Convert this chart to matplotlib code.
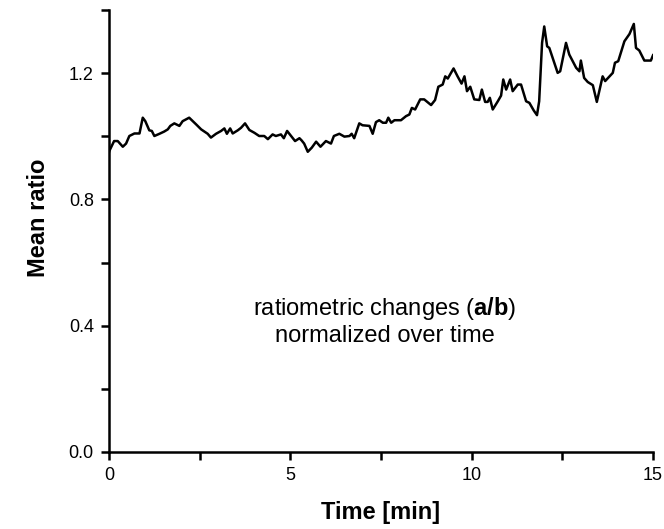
import matplotlib
matplotlib.use("Agg")
import matplotlib.pyplot as plt
from matplotlib.ticker import MultipleLocator

plt.rcParams['font.family'] = ['Liberation Sans', 'DejaVu Sans']
plt.rcParams['mathtext.fontset'] = 'custom'
plt.rcParams['mathtext.rm'] = 'Liberation Sans'
plt.rcParams['mathtext.bf'] = 'Liberation Sans:bold'

# time [min] and mean ratio
time = [0.00, 0.01, 0.14, 0.24, 0.38, 0.47, 0.56, 0.70, 0.84, 0.93, 1.00,
        1.11, 1.18, 1.25, 1.39, 1.52, 1.62, 1.69, 1.80, 1.94, 2.03, 2.21,
        2.40, 2.54, 2.72, 2.81, 2.95, 3.09, 3.18, 3.25, 3.34, 3.41, 3.55,
        3.64, 3.75, 3.87, 4.01, 4.14, 4.28, 4.38, 4.51, 4.60, 4.74, 4.82,
        4.91, 5.02, 5.13, 5.25, 5.31, 5.38, 5.48, 5.59, 5.71, 5.83, 5.98,
        6.12, 6.20, 6.35, 6.49, 6.63, 6.69, 6.76, 6.90, 6.99, 7.18, 7.27,
        7.36, 7.45, 7.55, 7.64, 7.70, 7.78, 7.87, 8.05, 8.19, 8.28, 8.35,
        8.44, 8.58, 8.69, 8.88, 8.99, 9.08, 9.20, 9.27, 9.34, 9.50, 9.61,
        9.72, 9.80, 9.87, 9.96, 10.07, 10.21, 10.28, 10.37, 10.44, 10.50,
        10.58, 10.72, 10.81, 10.87, 10.95, 11.06, 11.13, 11.27, 11.36,
        11.50, 11.59, 11.71, 11.80, 11.86, 11.94, 12.00, 12.08, 12.14,
        12.37, 12.44, 12.60, 12.69, 12.88, 12.97, 13.01, 13.10, 13.20,
        13.34, 13.45, 13.61, 13.68, 13.89, 13.95, 14.04, 14.21, 14.35,
        14.47, 14.53, 14.62, 14.76, 14.94, 15.00]
ratio = [0.950, 0.954, 0.985, 0.985, 0.967, 0.977, 1.001, 1.009, 1.009, 1.059,
         1.048, 1.019, 1.017, 1.001, 1.008, 1.015, 1.022, 1.033, 1.041, 1.033,
         1.048, 1.059, 1.038, 1.022, 1.008, 0.996, 1.008, 1.017, 1.025, 1.008,
         1.025, 1.009, 1.019, 1.027, 1.041, 1.020, 1.011, 1.001, 1.001, 0.991,
         1.006, 1.001, 1.006, 0.994, 1.017, 1.001, 0.985, 0.994, 0.987, 0.977,
         0.951, 0.964, 0.983, 0.967, 0.985, 0.977, 1.001, 1.008, 0.999, 1.001,
         1.008, 0.994, 1.041, 1.035, 1.033, 1.008, 1.045, 1.051, 1.043, 1.043,
         1.059, 1.043, 1.051, 1.051, 1.064, 1.069, 1.090, 1.085, 1.117, 1.117,
         1.099, 1.115, 1.157, 1.164, 1.190, 1.183, 1.215, 1.190, 1.167, 1.190,
         1.143, 1.157, 1.117, 1.115, 1.148, 1.109, 1.109, 1.122, 1.085, 1.111,
         1.129, 1.180, 1.148, 1.180, 1.143, 1.164, 1.164, 1.111, 1.106, 1.082,
         1.067, 1.111, 1.296, 1.348, 1.285, 1.280, 1.201, 1.206, 1.296, 1.259,
         1.217, 1.206, 1.240, 1.185, 1.172, 1.162, 1.109, 1.190, 1.175, 1.201,
         1.233, 1.238, 1.301, 1.324, 1.356, 1.280, 1.272, 1.240, 1.240, 1.257]

fig = plt.figure(figsize=(6.64, 5.29), dpi=100)
ax = fig.add_axes([0.1642, 0.1456, 0.8193, 0.8354])

ax.plot(time, ratio, color='black', lw=1.8)

ax.set_xlim(0, 15)
ax.set_ylim(0, 1.4)
ax.xaxis.set_major_locator(MultipleLocator(5))
ax.xaxis.set_minor_locator(MultipleLocator(2.5))
ax.yaxis.set_major_locator(MultipleLocator(0.4))
ax.yaxis.set_minor_locator(MultipleLocator(0.2))
ax.yaxis.set_major_formatter(plt.FuncFormatter(lambda v, p: '%.1f' % v))

for s in ['top', 'right']:
    ax.spines[s].set_visible(False)
for s in ['left', 'bottom']:
    ax.spines[s].set_linewidth(1.8)
ax.tick_params(which='both', direction='out', length=6, width=1.8,
               labelsize=13, pad=5)

ax.set_xlabel('Time [min]', fontsize=17, fontweight='bold', labelpad=12)
ax.set_ylabel('Mean ratio', fontsize=17, fontweight='bold')
ax.yaxis.set_label_coords(-0.108, 0.529)

ax.text(7.61, 0.433, r'ratiometric changes ($\mathbf{a/b}$)', ha='center',
        va='baseline', fontsize=17)
ax.text(7.61, 0.348, 'normalized over time', ha='center', va='baseline',
        fontsize=17)

plt.savefig('out.png', dpi=100)
